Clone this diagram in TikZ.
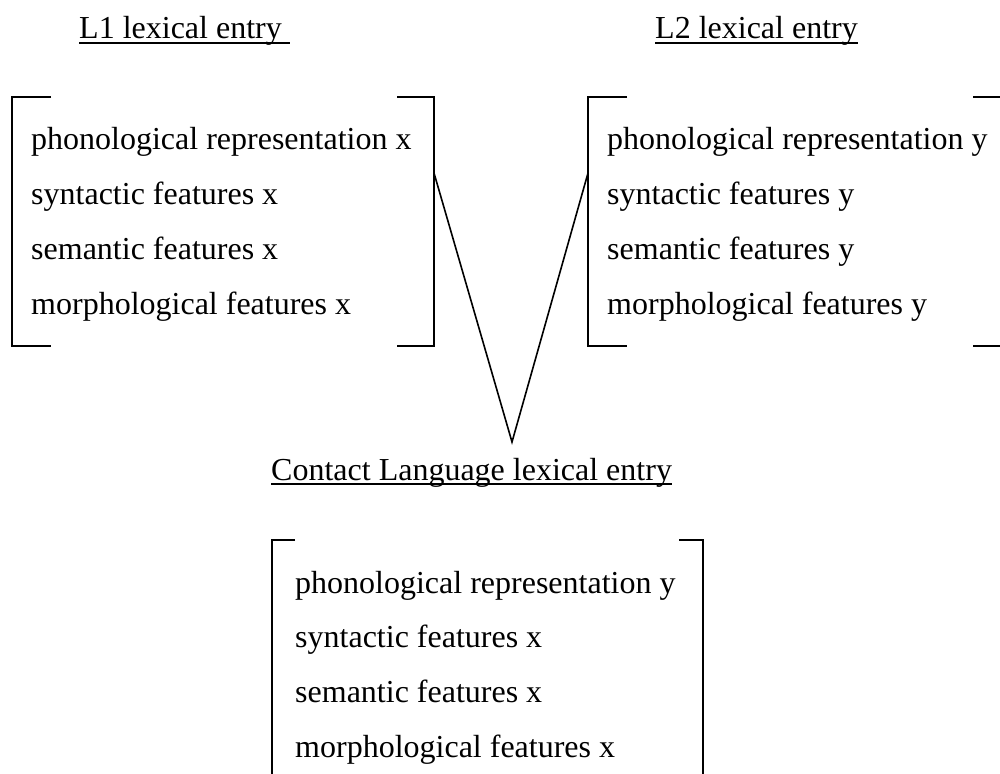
\documentclass[tikz,border=0pt]{standalone}
\usepackage{fontspec}
\setmainfont{Liberation Serif}
\begin{document}
\begin{tikzpicture}[x=1pt,y=-1pt,
  txt/.style={font=\fontsize{32}{38}\selectfont, inner sep=0pt, anchor=base west},
  brk/.style={line width=2pt},
  link/.style={line width=1.6pt},
  uline/.style={line width=1.8pt}]
\useasboundingbox (0,0) rectangle (1000,773);
\clip (0,0) rectangle (1000,773);

% titles
\node[txt] (t1) at (79,39) {L1 lexical entry};
\node[txt] (t2) at (655,39) {L2 lexical entry};
\node[txt] (t3) at (271,480) {Contact Language lexical entry};
\draw[uline] ([yshift=-4pt]t1.base west) -- ([xshift=8pt,yshift=-4pt]t1.base east);
\draw[uline] ([yshift=-4pt]t2.base west) -- ([yshift=-4pt]t2.base east);
\draw[uline] ([yshift=-4pt]t3.base west) -- ([yshift=-4pt]t3.base east);

% L1 entry
\node[txt] (a1) at (31,149) {phonological representation x};
\node[txt] (a2) at (31,204) {syntactic features x};
\node[txt] (a3) at (31,259) {semantic features x};
\node[txt] (a4) at (31,314) {morphological features x};
\draw[brk] (51,97) -- (12,97) -- (12,346) -- (51,346);
\draw[brk] (397,97) -- (434,97) -- (434,346) -- (397,346);

% L2 entry
\node[txt] (b1) at (607,149) {phonological representation y};
\node[txt] (b2) at (607,204) {syntactic features y};
\node[txt] (b3) at (607,259) {semantic features y};
\node[txt] (b4) at (607,314) {morphological features y};
\draw[brk] (627,97) -- (588,97) -- (588,346) -- (627,346);
\draw[brk] (973,97) -- (1011,97) -- (1011,346) -- (973,346);

% Contact language entry
\node[txt] (c1) at (295,593) {phonological representation y};
\node[txt] (c2) at (295,647) {syntactic features x};
\node[txt] (c3) at (295,702) {semantic features x};
\node[txt] (c4) at (295,757) {morphological features x};
\draw[brk] (295,540) -- (272,540) -- (272,790);
\draw[brk] (679,540) -- (703,540) -- (703,790);

% connectors
\coordinate (v1) at (434,173);
\coordinate (v2) at (588,173);
\coordinate (apex) at (512,442);
\draw[link] (v1) -- (apex) -- (v2);
\end{tikzpicture}
\end{document}
